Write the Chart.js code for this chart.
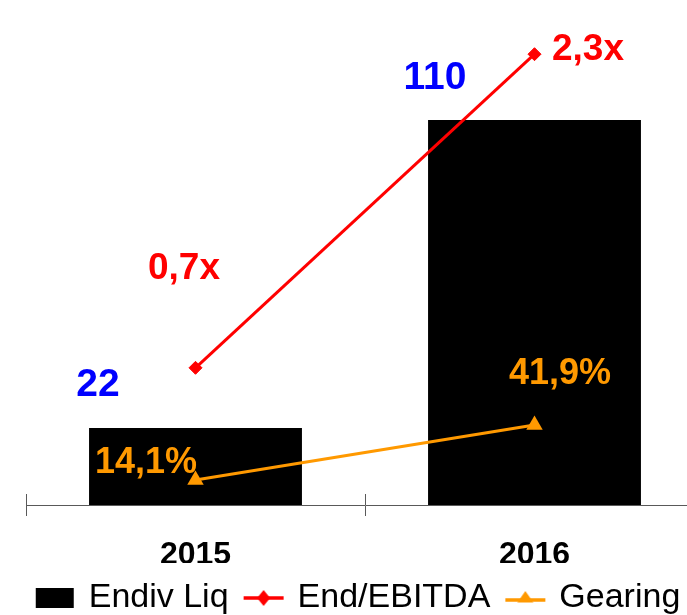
<!DOCTYPE html>
<html><head><meta charset="utf-8">
<script src="https://cdn.jsdelivr.net/npm/chart.js@4.4.1/dist/chart.umd.min.js"></script>
<style>
html,body{margin:0;padding:0;overflow:hidden;background:#fff;width:687px;height:615px}
#wrap{position:absolute;left:0;top:0;width:720px;height:625px}
</style></head><body>
<div id="wrap"><canvas id="c" width="720" height="625"></canvas></div>
<script>
const categories = ['2015', '2016'];
const endivLiq = [22, 110];
const endEbitda = [0.7, 2.3];
const gearing = [14.1, 41.9];
const seriesNames = ['Endiv Liq', 'End/EBITDA', 'Gearing'];

const FONT = "'Liberation Sans', Arial, Helvetica, sans-serif";
const RED = '#FF0000', ORANGE = '#FF9900', BLUE = '#0000FF', AXIS = '#595959';

function icon(draw) {
  const c = document.createElement('canvas');
  c.width = 42; c.height = 22;
  draw(c.getContext('2d'));
  return c;
}
const iconBar = icon(ctx => { ctx.fillStyle = '#000'; ctx.fillRect(2, 1, 38, 20); });
const iconRed = icon(ctx => {
  ctx.strokeStyle = RED; ctx.lineWidth = 3.5;
  ctx.beginPath(); ctx.moveTo(1, 11); ctx.lineTo(41, 11); ctx.stroke();
  ctx.fillStyle = RED; ctx.beginPath();
  ctx.moveTo(21, 3); ctx.lineTo(27.5, 11); ctx.lineTo(21, 19); ctx.lineTo(14.5, 11); ctx.closePath(); ctx.fill();
});
const iconOrange = icon(ctx => {
  ctx.strokeStyle = ORANGE; ctx.lineWidth = 3.5;
  ctx.beginPath(); ctx.moveTo(1, 13); ctx.lineTo(41, 13); ctx.stroke();
  ctx.fillStyle = ORANGE; ctx.beginPath();
  ctx.moveTo(21, 4); ctx.lineTo(29, 15.5); ctx.lineTo(13, 15.5); ctx.closePath(); ctx.fill();
});
const icons = [iconBar, iconRed, iconOrange];

const fmt = v => String(v).replace('.', ',');

const valueLabels = {
  id: 'valueLabels',
  afterDatasetsDraw(chart, args, opts) {
    const ctx = chart.ctx;
    chart.data.datasets.forEach((ds, di) => {
      const cfg = opts.sets[di];
      const meta = chart.getDatasetMeta(di);
      meta.data.forEach((el, i) => {
        const p = el.getProps(['x', 'y'], true);
        ctx.save();
        ctx.font = 'bold ' + cfg.size + 'px ' + FONT;
        ctx.fillStyle = cfg.color;
        ctx.textAlign = 'center';
        ctx.textBaseline = 'middle';
        ctx.fillText(cfg.format(ds.data[i]), p.x + cfg.offsets[i][0], p.y + cfg.offsets[i][1]);
        ctx.restore();
      });
    });
  }
};

const tickUp = {
  id: 'tickUp',
  afterDraw(chart) {
    const s = chart.scales.x;
    const ctx = chart.ctx;
    const n = chart.data.labels.length;
    const w = (s.right - s.left) / n;
    ctx.save();
    ctx.strokeStyle = AXIS; ctx.lineWidth = 1;
    for (let i = 0; i <= n; i++) {
      const x = Math.round(s.left + i * w) + 0.5;
      ctx.beginPath(); ctx.moveTo(x, s.top - 11); ctx.lineTo(x, s.top); ctx.stroke();
    }
    ctx.restore();
  }
};

new Chart(document.getElementById('c'), {
  data: {
    labels: categories,
    datasets: [
      { type: 'bar', label: seriesNames[0], data: endivLiq, backgroundColor: '#000', borderWidth: 0,
        yAxisID: 'y', order: 3, barPercentage: 0.628, categoryPercentage: 1 },
      { type: 'line', label: seriesNames[1], data: endEbitda, borderColor: RED, backgroundColor: RED,
        borderWidth: 3, pointStyle: 'rectRot', pointRadius: 6.5, pointBorderWidth: 1, pointBackgroundColor: RED,
        pointBorderColor: RED, yAxisID: 'y2', order: 1, tension: 0 },
      { type: 'line', label: seriesNames[2], data: gearing, borderColor: ORANGE, backgroundColor: ORANGE,
        borderWidth: 3, pointStyle: 'triangle', pointRadius: 9.5, pointBorderWidth: 0, pointBackgroundColor: ORANGE,
        pointBorderColor: ORANGE, yAxisID: 'y3', order: 2, tension: 0 }
    ]
  },
  options: {
    responsive: false,
    animation: false,
    devicePixelRatio: 1,
    layout: { padding: { left: 14, right: 16, top: 15, bottom: 0 } },
    scales: {
      x: {
        type: 'category', offset: true,
        grid: { display: true, drawOnChartArea: false, drawTicks: true, tickLength: 11, color: AXIS, offset: true },
        border: { display: true, color: AXIS, width: 1 },
        ticks: { color: '#000', font: { family: FONT, size: 32, weight: 'bold' }, padding: 20, maxRotation: 0 },
        afterFit(s) { s.height = 58; }
      },
      y: {
        position: 'left', min: 0, max: 140,
        grid: { display: false }, border: { display: false }, ticks: { display: false },
        afterFit(s) { s.width = 12; }
      },
      y2: { position: 'right', min: 0, max: 2.5, display: false },
      y3: { position: 'right', min: 1.5, max: 249, display: false }
    },
    plugins: {
      tooltip: { enabled: false },
      legend: {
        position: 'bottom',
        labels: {
          usePointStyle: true, pointStyleWidth: 34, padding: 18, color: '#000',
          font: { family: FONT, size: 34 },
          generateLabels(chart) {
            return chart.data.datasets.map((ds, i) => ({
              text: ds.label, fillStyle: '#000', strokeStyle: '#000', lineWidth: 0,
              pointStyle: icons[i], hidden: false, datasetIndex: i, fontColor: '#000'
            }));
          }
        }
      },
      valueLabels: {
        sets: [
          { color: BLUE, size: 39, format: v => String(v), offsets: [[-97.5, -43], [-99.5, -42]] },
          { color: RED, size: 37, format: v => fmt(v.toFixed(1)) + 'x', offsets: [[-11.5, -99.5], [53.5, -4]] },
          { color: ORANGE, size: 36, format: v => fmt(v.toFixed(1)) + '%', offsets: [[-49.5, -17], [25.5, -51]] }
        ]
      }
    }
  },
  plugins: [valueLabels, tickUp]
});
</script>
</body></html>
